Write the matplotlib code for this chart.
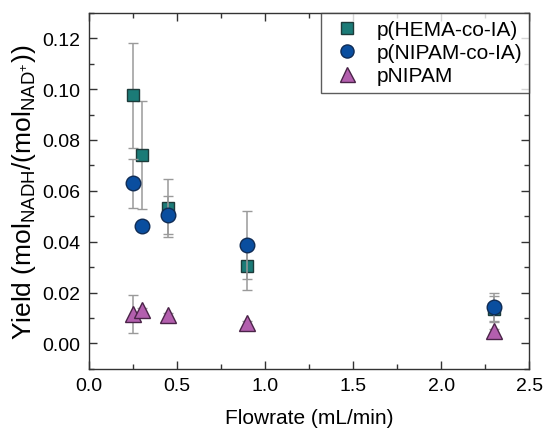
import matplotlib.pyplot as plt
from matplotlib.ticker import MultipleLocator

plt.rcParams['font.family'] = ['Liberation Sans', 'DejaVu Sans']

# data
flow = [0.25, 0.30, 0.45, 0.90, 2.30]
series_names = ['p(HEMA-co-IA)', 'p(NIPAM-co-IA)', 'pNIPAM']

hema_y = [0.0975, 0.0742, 0.0533, 0.0304, 0.0135]
hema_err = [0.0205, 0.0213, 0.0115, 0.0095, 0.0050]

nipam_ia_y = [0.0630, 0.0463, 0.0505, 0.0388, 0.0144]
nipam_ia_err = [0.0097, 0.0010, 0.0075, 0.0133, 0.0055]

pnipam_y = [0.0115, 0.0130, 0.0110, 0.0079, 0.0047]
pnipam_err = [0.0075, 0.0010, 0.0010, 0.0010, 0.0010]

fig, ax = plt.subplots(figsize=(5.45, 4.31), dpi=100)
fig.subplots_adjust(left=0.163, right=0.971, top=0.968, bottom=0.142)

err_kw = dict(ecolor='#9a9a9a', elinewidth=1.1, capsize=3.5, capthick=1.0, linestyle='none')
c1 = ax.errorbar(flow, hema_y, yerr=hema_err, marker='s', ms=9, mfc='#1b7b77', mec='#1d3b3a',
                 mew=1.0, zorder=3, **err_kw)
c2 = ax.errorbar(flow, nipam_ia_y, yerr=nipam_ia_err, marker='o', ms=10.5, mfc='#0a4e9f', mec='#102c55',
                 mew=1.0, zorder=4, **err_kw)
c3 = ax.errorbar(flow, pnipam_y, yerr=pnipam_err, marker='^', ms=12, mfc='#b35fae', mec='#4a2448',
                 mew=1.0, zorder=5, **err_kw)

ax.set_xlim(0, 2.5)
ax.set_ylim(-0.01, 0.13)
ax.xaxis.set_major_locator(MultipleLocator(0.5))
ax.xaxis.set_minor_locator(MultipleLocator(0.25))
ax.yaxis.set_major_locator(MultipleLocator(0.02))
ax.yaxis.set_minor_locator(MultipleLocator(0.01))
ax.yaxis.set_major_formatter(plt.FormatStrFormatter('%.2f'))
ax.xaxis.set_major_formatter(plt.FormatStrFormatter('%.1f'))
ax.tick_params(which='both', direction='in', top=True, right=True, labelsize=14, width=1.0,
               color='#333333', pad=6)
ax.tick_params(which='major', length=6)
ax.tick_params(which='minor', length=3.5)
for s in ax.spines.values():
    s.set_color('#333333')
    s.set_linewidth(1.0)

ax.set_xlabel('Flowrate (mL/min)', fontsize=15, labelpad=10)
ax.set_ylabel('Yield (mol$_{\\mathregular{NADH}}$/(mol$_{\\mathregular{NAD^{+}}}$))', fontsize=19, labelpad=3)

handles = [c1[0], c2[0], c3[0]]
leg = ax.legend(handles, series_names, loc='upper right',
                fontsize=15, frameon=True, fancybox=False, borderaxespad=0, handlelength=1.8,
                handletextpad=0.5, labelspacing=0.2, borderpad=0.35, markerscale=0.9)
leg.get_frame().set_edgecolor('#333333')
leg.get_frame().set_linewidth(1.0)

fig.savefig('out.png', dpi=100)
